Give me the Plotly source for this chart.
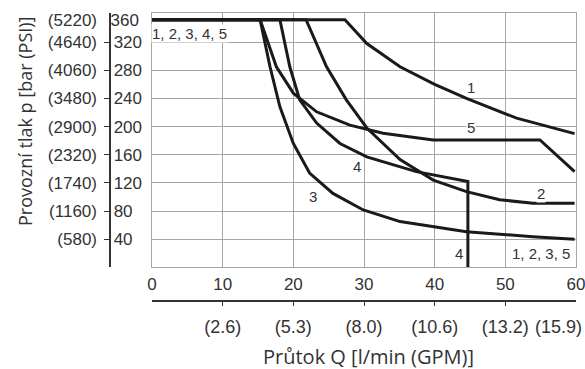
import plotly.graph_objects as go

# Flow Q [l/min] and pressure p [bar] of each curve
c1_x = [0, 27.3, 30.4, 35.1, 40.0, 44.5, 51.6, 59.8]
c1_y = [352, 352, 318, 285, 260, 240, 212, 190]
c2_x = [0, 21.8, 24.7, 27.5, 30.4, 35.1, 39.8, 44.5, 49.2, 53.9, 59.8]
c2_y = [352, 352, 285, 238, 198, 153, 124, 107.5, 96, 91, 91]
c3_x = [0, 15.3, 16.7, 18.1, 20.0, 22.3, 25.6, 29.9, 35.1, 44.5, 53.9, 59.8]
c3_y = [352, 352, 285, 228, 176, 134, 105, 81.5, 65, 50.6, 43.5, 40]
c4_x = [0, 18.1, 19.5, 20.9, 23.3, 26.6, 30.4, 37.4, 44.7, 44.7]
c4_y = [352, 352, 285, 238, 205, 176, 157, 136, 122, 0]
c5_x = [0, 15.3, 17.6, 20.0, 23.3, 28.0, 32.7, 39.8, 54.9, 59.8]
c5_y = [352, 352, 285, 247.5, 221, 202, 190.6, 181, 181, 136]

curves = [(c1_x, c1_y), (c2_x, c2_y), (c3_x, c3_y), (c4_x, c4_y), (c5_x, c5_y)]

# curve labels: text, x, y
label_text = ["1", "2", "3", "4", "4", "5", "1, 2, 3, 4, 5", "1, 2, 3, 5"]
label_x = [45.2, 55.1, 22.8, 29.0, 43.4, 45.2, 5.3, 55.0]
label_y = [256, 105, 100, 143, 20, 198, 333, 20]

# axes
q_ticks = [0, 10, 20, 30, 40, 50, 60]
gpm_vals = [10, 20, 30, 40, 50, 60]
gpm_text = ["(2.6)", "(5.3)", "(8.0)", "(10.6)", "(13.2)", "(15.9)"]
bar_tick_vals = [0, 40, 80, 120, 160, 200, 240, 280, 320, 361]
bar_tick_text = ["", "40", "80", "120", "160", "200", "240", "280", "320", ""]
top_val, top_text = 352, "360"          # max pressure line, labelled 360 bar
psi_vals = [40, 80, 120, 160, 200, 240, 280, 320, 352]
psi_text = ["(580)", "(1160)", "(1740)", "(2320)", "(2900)", "(3480)", "(4060)", "(4640)", "(5220)"]

W, H = 585, 369
def px(v): return v / W
def py(v): return (H - v) / H

NARROW = "Liberation Sans Narrow, Arial Narrow, Liberation Sans, sans-serif"
TXT = "#333333"
GRID = "#a6a6a6"
NBSP = "\u00a0"

fig = go.Figure()
for cx, cy in curves:
    fig.add_trace(go.Scatter(x=cx, y=cy, mode="lines",
                             line=dict(color="#1a1a1a", width=3),
                             showlegend=False, hoverinfo="skip"))
# dummy traces to realise the decorative axes
for xa, ya in [("x", "y2"), ("x", "y3"), ("x", "y4"), ("x2", "y"), ("x3", "y")]:
    fig.add_trace(go.Scatter(x=[None], y=[None], xaxis=xa, yaxis=ya, showlegend=False))

for t, x, y in zip(label_text, label_x, label_y):
    fig.add_annotation(x=x, y=y, text=t, showarrow=False, bgcolor="white",
                       font=dict(family=NARROW, size=15, color=TXT), borderpad=0)

fig.add_annotation(xref="paper", yref="paper", x=px(25), y=py(122), text="Provozní tlak p [bar (PSI)]",
                   xanchor="center", yanchor="middle",
                   textangle=-90, showarrow=False, font=dict(family="Open Sans", size=18, color=TXT))
fig.add_annotation(xref="paper", yref="paper", x=px(368), y=py(356), text="Průtok Q [l/min (GPM)]",
                   xanchor="center", yanchor="middle",
                   showarrow=False, font=dict(family="Open Sans", size=20, color=TXT))

# last GPM label sits left of its tick in the reference
gpm_labels = gpm_text[:-1] + [gpm_text[-1] + NBSP * 7]

xdom = [px(152), px(576)]
ydom = [py(267.3), py(13.3)]
yleft = px(109.5)
fig.update_layout(
    template="none",
    width=W, height=H, margin=dict(l=0, r=0, t=0, b=0, autoexpand=False),
    plot_bgcolor="rgba(0,0,0,0)", paper_bgcolor="white",
    xaxis=dict(domain=xdom, range=[0, 60], tickvals=q_ticks, showticklabels=False,
               showgrid=True, gridcolor=GRID, gridwidth=1, zeroline=False, automargin=False,
               showline=True, linecolor=GRID, linewidth=1, mirror=True, ticks=""),
    yaxis=dict(domain=ydom, range=[0, 361], tickvals=bar_tick_vals[1:-1], showticklabels=False,
               showgrid=True, gridcolor=GRID, gridwidth=1, zeroline=False, automargin=False,
               showline=True, linecolor=GRID, linewidth=1, mirror=True, ticks=""),
    yaxis2=dict(overlaying="y", anchor="free", position=yleft, side="right",
                range=[0, 361], tickvals=bar_tick_vals, ticktext=bar_tick_text,
                showgrid=False, zeroline=False, showline=True, linecolor="#333", linewidth=1.5,
                ticks="inside", ticklen=5, tickcolor="#333", automargin=False,
                tickfont=dict(family=NARROW, size=17, color=TXT)),
    yaxis4=dict(overlaying="y", anchor="free", position=yleft, side="right",
                range=[0, 361], tickvals=[top_val], ticktext=[top_text],
                showgrid=False, zeroline=False, showline=False,
                ticks="inside", ticklen=5, tickcolor="rgba(0,0,0,0)", automargin=False,
                tickfont=dict(family=NARROW, size=17, color=TXT)),
    yaxis3=dict(overlaying="y", anchor="free", position=px(97), side="left",
                range=[0, 361], tickvals=psi_vals, ticktext=psi_text, automargin=False,
                showgrid=False, zeroline=False, showline=False, ticks="",
                tickfont=dict(family=NARROW, size=17, color=TXT)),
    xaxis2=dict(overlaying="x", anchor="free", position=py(300.7), side="top",
                range=[0, 60], tickvals=q_ticks, showgrid=False, zeroline=False,
                showline=True, linecolor="#333", linewidth=1.5, ticklabelstandoff=3,
                ticks="inside", ticklen=5, tickcolor="#333", ticklabeloverflow="allow",
                automargin=False, tickfont=dict(family=NARROW, size=17, color=TXT)),
    xaxis3=dict(overlaying="x", anchor="free", position=py(314), side="bottom",
                range=[0, 60], tickvals=gpm_vals, ticktext=gpm_labels, showgrid=False,
                zeroline=False, showline=False, ticks="", ticklabeloverflow="allow",
                automargin=False, tickfont=dict(family=NARROW, size=18, color=TXT)),
)
fig.write_html("out.html", config={"displayModeBar": False},
               post_script="document.body.style.margin='0';")
